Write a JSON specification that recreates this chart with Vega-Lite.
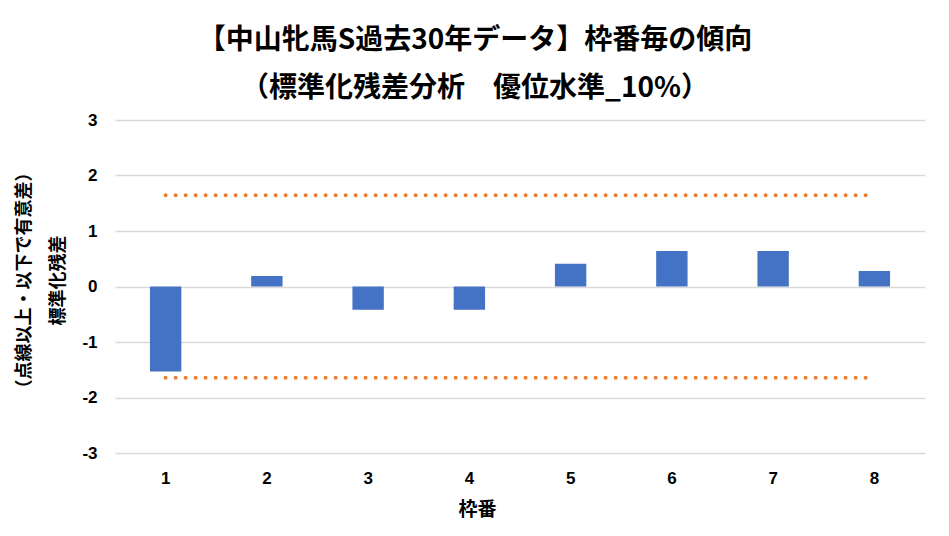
{
  "$schema": "https://vega.github.io/schema/vega-lite/v6.json",
  "width": 810,
  "height": 333,
  "autosize": {"type": "none"},
  "padding": {"left": 115, "top": 120, "right": 24, "bottom": 83},
  "background": "white",
  "title": {
    "text": ["【中山牝馬S過去30年データ】枠番毎の傾向", "（標準化残差分析　優位水準_10%）"],
    "font": "Noto Sans CJK JP",
    "fontSize": 28,
    "fontWeight": "bold",
    "lineHeight": 48,
    "color": "#000000",
    "anchor": "middle",
    "frame": "group",
    "dx": -45,
    "offset": 8
  },
  "datasets": {
    "bars": [
      {"frame": "1", "value": -1.53},
      {"frame": "2", "value": 0.19},
      {"frame": "3", "value": -0.42},
      {"frame": "4", "value": -0.42},
      {"frame": "5", "value": 0.41},
      {"frame": "6", "value": 0.64},
      {"frame": "7", "value": 0.64},
      {"frame": "8", "value": 0.28}
    ],
    "limits": [
      {"frame": "1", "upper": 1.645, "lower": -1.645},
      {"frame": "8", "upper": 1.645, "lower": -1.645}
    ]
  },
  "layer": [
    {
      "data": {"name": "bars"},
      "mark": {"type": "bar", "color": "#4472C4"},
      "encoding": {
        "x": {
          "field": "frame", "type": "nominal", "sort": null,
          "scale": {"domain": ["1","2","3","4","5","6","7","8"], "paddingInner": 0.69, "paddingOuter": 0.345},
          "axis": {
            "title": "枠番",
            "titleFont": "Noto Sans CJK JP",
            "titleFontSize": 19,
            "titleFontWeight": "bold",
            "titleColor": "#000000",
            "titleX": 362,
            "titleY": 56,
            "titleBaseline": "middle",
            "labelAngle": 0,
            "labelFont": "Liberation Sans",
            "labelFontSize": 17,
            "labelFontWeight": "bold",
            "labelColor": "#000000",
            "labelPadding": 17,
            "domain": false,
            "ticks": false,
            "grid": false
          }
        },
        "y": {
          "field": "value", "type": "quantitative",
          "scale": {"domain": [-3, 3], "nice": false},
          "axis": {
            "values": [-3, -2, -1, 0, 1, 2, 3],
            "labelExpr": "'' + datum.value",
            "title": ["（点線以上・以下で有意差）", "標準化残差"],
            "titleFont": "Noto Sans CJK JP",
            "titleFontSize": 18,
            "titleFontWeight": "bold",
            "titleColor": "#000000",
            "titleLineHeight": 34,
            "titleX": -91,
            "titleY": 160,
            "titleBaseline": "middle",
            "titleAlign": "center",
            "labelFont": "Liberation Sans",
            "labelFontSize": 17,
            "labelFontWeight": "bold",
            "labelColor": "#000000",
            "labelPadding": 18,
            "domain": false,
            "ticks": false,
            "grid": true,
            "gridColor": "#D9D9D9",
            "gridWidth": 1.5
          }
        }
      }
    },
    {
      "data": {"name": "limits"},
      "mark": {"type": "line", "color": "#ED7D31", "strokeWidth": 4, "strokeDash": [0, 10], "strokeCap": "round"},
      "encoding": {
        "x": {"field": "frame", "type": "nominal", "sort": null},
        "y": {"field": "upper", "type": "quantitative"}
      }
    },
    {
      "data": {"name": "limits"},
      "mark": {"type": "line", "color": "#ED7D31", "strokeWidth": 4, "strokeDash": [0, 10], "strokeCap": "round"},
      "encoding": {
        "x": {"field": "frame", "type": "nominal", "sort": null},
        "y": {"field": "lower", "type": "quantitative"}
      }
    }
  ],
  "config": {"view": {"stroke": null}}
}
